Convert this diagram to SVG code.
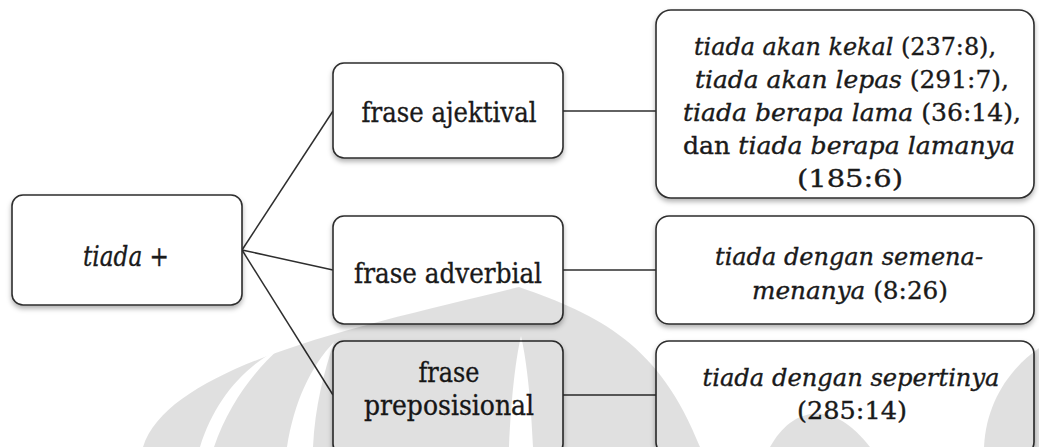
<svg xmlns="http://www.w3.org/2000/svg" width="1039" height="447" viewBox="0 0 1039 447">
  <defs>
    <style>
      .box { fill: #ffffff; stroke: #2e2e2e; stroke-width: 1.6; }
      .link { stroke: #2e2e2e; stroke-width: 1.5; fill: none; }
      .t { font-family: "DejaVu Serif", "Liberation Serif", serif; font-size: 27px; fill: #1a1a1a; stroke: #1a1a1a; stroke-width: 0.35; text-anchor: middle; }
      .s { font-size: 24px; }
      .i { font-style: italic; }
      .wm { fill: #000000; fill-opacity: 0.12; }
    </style>
    <filter id="shadow" x="-10%" y="-10%" width="120%" height="130%">
      <feDropShadow dx="0" dy="3" stdDeviation="2.5" flood-color="#000" flood-opacity="0.3"/>
    </filter>
    <!-- openings cut out of the background emblem -->
    <mask id="emblem-cut">
      <rect x="0" y="0" width="1039" height="447" fill="#fff"/>
      <path fill="#000" d="M200,447 C214,402 242,368 280,348 C253,372 228,406 214,447 Z
                           M287,447 C294,402 311,366 334,342 C324,372 315,406 313,447 Z
                           M509,447 C511,402 515,362 521,336 C527,362 531,402 533,447 Z"/>
    </mask>
  </defs>

  <rect x="0" y="0" width="1039" height="447" fill="#ffffff"/>

  <!-- connectors -->
  <g id="connectors">
    <line class="link" x1="242" y1="250" x2="333" y2="111"/>
    <line class="link" x1="242" y1="250" x2="333" y2="270"/>
    <line class="link" x1="242" y1="250" x2="333" y2="395"/>
    <line class="link" x1="563" y1="111" x2="656" y2="111"/>
    <line class="link" x1="563" y1="270" x2="656" y2="270"/>
    <line class="link" x1="563" y1="395" x2="656" y2="395"/>
  </g>

  <g id="node-tiada">
    <rect class="box" x="12" y="195" width="230" height="110" rx="11" filter="url(#shadow)"/>
    <text class="t i" x="126" y="266" textLength="86" lengthAdjust="spacingAndGlyphs">tiada +</text>
  </g>

  <g id="node-ajektival">
    <rect class="box" x="333" y="63" width="230" height="95" rx="11" filter="url(#shadow)"/>
    <text class="t" x="449" y="122" textLength="175" lengthAdjust="spacingAndGlyphs">frase ajektival</text>
  </g>

  <g id="node-ajektival-examples">
    <rect class="box" x="656" y="10" width="378" height="188" rx="15" filter="url(#shadow)"/>
    <text class="t s" x="845" y="55" textLength="302" lengthAdjust="spacingAndGlyphs"><tspan class="i">tiada akan kekal</tspan> (237:8),</text>
    <text class="t s" x="852" y="88" textLength="314" lengthAdjust="spacingAndGlyphs"><tspan class="i">tiada akan lepas</tspan> (291:7),</text>
    <text class="t s" x="852" y="121" textLength="338" lengthAdjust="spacingAndGlyphs"><tspan class="i">tiada berapa lama</tspan> (36:14),</text>
    <text class="t s" x="849" y="154" textLength="332" lengthAdjust="spacingAndGlyphs">dan <tspan class="i">tiada berapa lamanya</tspan></text>
    <text class="t s" x="850" y="187" textLength="106" lengthAdjust="spacingAndGlyphs">(185:6)</text>
  </g>

  <g id="node-adverbial">
    <rect class="box" x="333" y="216" width="230" height="108" rx="11" filter="url(#shadow)"/>
    <text class="t" x="448" y="283" textLength="188" lengthAdjust="spacingAndGlyphs">frase adverbial</text>
  </g>

  <g id="node-adverbial-example">
    <rect class="box" x="656" y="216" width="378" height="108" rx="13" filter="url(#shadow)"/>
    <text class="t s i" x="849" y="265" textLength="268" lengthAdjust="spacingAndGlyphs">tiada dengan semena-</text>
    <text class="t s" x="850" y="299" textLength="196" lengthAdjust="spacingAndGlyphs"><tspan class="i">menanya</tspan> (8:26)</text>
  </g>

  <g id="node-preposisional">
    <rect class="box" x="333" y="341" width="230" height="114" rx="11" filter="url(#shadow)"/>
    <text class="t" x="449" y="382" textLength="61" lengthAdjust="spacingAndGlyphs">frase</text>
    <text class="t" x="449" y="415" textLength="170" lengthAdjust="spacingAndGlyphs">preposisional</text>
  </g>

  <g id="node-preposisional-example">
    <rect class="box" x="656" y="341" width="378" height="114" rx="13" filter="url(#shadow)"/>
    <text class="t s i" x="851" y="386" textLength="297" lengthAdjust="spacingAndGlyphs">tiada dengan sepertinya</text>
    <text class="t s" x="852" y="419" textLength="110" lengthAdjust="spacingAndGlyphs">(285:14)</text>
  </g>

  <!-- faint background emblem laid over the lower half -->
  <g id="emblem">
    <path class="wm" mask="url(#emblem-cut)" d="M143,447 C170,362 380,322 519,287 C600,315 660,345 700,447 Z"/>
    <path class="wm" d="M770,447 C790,410 830,395 870,447 Z"/>
    <path class="wm" d="M984,447 C986,404 1008,370 1039,348 L1039,447 Z"/>
  </g>
</svg>
